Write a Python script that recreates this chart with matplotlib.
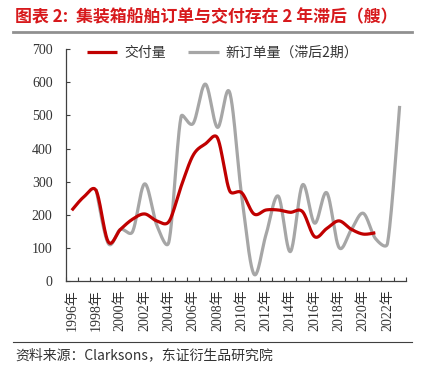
import numpy as np
import matplotlib
matplotlib.use("Agg")
import matplotlib.pyplot as plt

# Datos (barcos)
anios = list(range(1996, 2024))
entregas = [213, 254, 273, 118, 155, 186, 202, 181, 179, 285, 380, 414, 432,
            272, 266, 202, 214, 214, 207, 209, 133, 158, 181, 156, 141, 145]
pedidos_lag2 = [277, 113, 155, 148, 293, 168, 118, 496, 476, 595, 464, 570,
                254, 20, 140, 256, 88, 290, 174, 266, 101, 153, 204, 128, 113, 529]
inicio_entregas = 1996
inicio_pedidos = 1998

etiquetas_x = [f"{a}年" for a in anios[::2]]

ROJO = '#C00000'
GRIS = '#A6A6A6'
CJK = ['Noto Sans CJK SC', 'DejaVu Sans']
SERIF = ['Liberation Serif', 'Noto Sans CJK SC']

# escala aproximada en píxeles (para el suavizado tipo Excel)
PX_X = 12.14
PX_Y = 0.33


def suavizar(x, y, n=24):
    """Curva suavizada al estilo de Excel (Bezier con tensión limitada)."""
    p = np.column_stack([np.asarray(x, float) * PX_X, np.asarray(y, float) * PX_Y])
    p = np.vstack([p[0], p, p[-1]])
    t = np.linspace(0, 1, n, endpoint=False)[:, None]
    trozos = []
    for i in range(1, len(p) - 2):
        p0, p1, p2, p3 = p[i - 1], p[i], p[i + 1], p[i + 2]
        d12 = np.linalg.norm(p2 - p1)
        d02 = np.linalg.norm(p2 - p0)
        d13 = np.linalg.norm(p3 - p1)
        f0 = 1 / 6
        f3 = 1 / 6
        if d02 / 6 >= d12 / 2 and d02 > 0:
            f0 = d12 / d02 / 2
        if d13 / 6 >= d12 / 2 and d13 > 0:
            f3 = d12 / d13 / 2
        c1 = p1 + (p2 - p0) * f0
        c2 = p2 - (p3 - p1) * f3
        b = ((1 - t) ** 3) * p1 + 3 * ((1 - t) ** 2) * t * c1 \
            + 3 * (1 - t) * t ** 2 * c2 + t ** 3 * p2
        trozos.append(b)
    trozos.append(p[-2][None, :])
    c = np.vstack(trozos)
    return c[:, 0] / PX_X, c[:, 1] / PX_Y


fig = plt.figure(figsize=(4.25, 3.75), dpi=100)
ax = fig.add_axes([0.1546, 0.2515, 0.80, 0.6168])

x_ent = [a - 1996 for a in range(inicio_entregas, inicio_entregas + len(entregas))]
x_ped = [a - 1996 for a in range(inicio_pedidos, inicio_pedidos + len(pedidos_lag2))]

sx, sy = suavizar(x_ent, entregas)
ax.plot(sx, sy, color=ROJO, lw=2.3, label='交付量', zorder=3,
        solid_capstyle='butt')
sx, sy = suavizar(x_ped, pedidos_lag2)
ax.plot(sx, sy, color=GRIS, lw=2.3, label='新订单量（滞后2期）', zorder=2,
        solid_capstyle='butt')

ax.set_xlim(-0.5, len(anios) - 0.5)
ax.set_ylim(0, 700)
ax.set_yticks(range(0, 701, 100))
ax.set_xticks(np.arange(-0.5, len(anios), 1), minor=False)
ax.set_xticklabels([])
ax.set_xticks(range(0, len(anios), 2), minor=True)
ax.set_xticklabels(etiquetas_x, minor=True, rotation=90, family=SERIF,
                   fontsize=10, color='#333333')
ax.tick_params(axis='x', which='major', direction='in', length=3, color='#404040')
ax.tick_params(axis='x', which='minor', length=0, pad=6)
ax.tick_params(axis='y', direction='in', length=3, color='#404040',
               labelsize=10, labelcolor='#333333', pad=9.5)
for lbl in ax.get_yticklabels():
    lbl.set_family(SERIF)

for lado in ('top', 'right'):
    ax.spines[lado].set_visible(False)
for lado in ('left', 'bottom'):
    ax.spines[lado].set_color('#404040')
    ax.spines[lado].set_linewidth(0.9)

ley = ax.legend(loc='center', ncol=2, frameon=False,
                handlelength=2.2, handletextpad=0.5, columnspacing=1.6,
                bbox_to_anchor=(0.461, 0.984), prop={'family': CJK, 'size': 10})
for t in ley.get_texts():
    t.set_color('#333333')

# Título y fuente
fig.text(0.035, 0.955, '图表 2:  集装箱船舶订单与交付存在 2 年滞后（艘）',
         family=CJK, fontsize=12.2, fontweight='bold', color='#D7191C',
         va='center', ha='left')
fig.add_artist(plt.Line2D([0.03, 0.97], [0.914, 0.914], color='#909090', lw=2))
fig.add_artist(plt.Line2D([0.03, 0.97], [0.088, 0.088], color='#404040', lw=0.8))
fig.text(0.035, 0.053, '资料来源：Clarksons，东证衍生品研究院', family=CJK,
         fontsize=10, color='#333333', va='center', ha='left')

fig.savefig('out.png', dpi=100)
